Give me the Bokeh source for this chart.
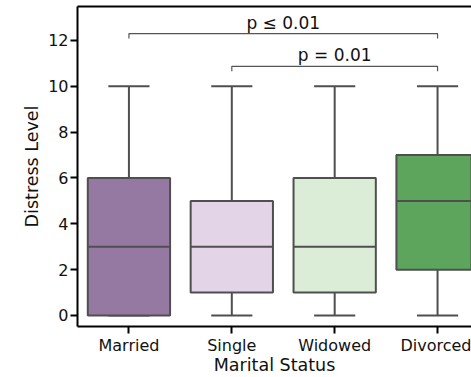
from bokeh.plotting import figure
from bokeh.models import ColumnDataSource, FixedTicker, LinearAxis, Range1d, Label
from bokeh.embed import file_html
from bokeh.resources import INLINE

categories = ["Married", "Single", "Widowed", "Divorced"]
whisker_low = [0, 0, 0, 0]
q1 = [0, 1, 1, 2]
median = [3, 3, 3, 5]
q3 = [6, 5, 6, 7]
whisker_high = [10, 10, 10, 10]
colors = ["#9679a3", "#e3d5e7", "#dbecd7", "#5da45c"]
y_ticks = [0, 2, 4, 6, 8, 10, 12]

# significance annotations: (from category, to category, bracket height, label)
brackets = [("Married", "Divorced", 12.3, "p \u2264 0.01"),
            ("Single", "Divorced", 10.87, "p = 0.01")]

FONT = "DejaVu Sans"
EDGE = "#4f4f4f"

bw = 0.8
cw = 0.4
xs = list(range(len(categories)))
src = ColumnDataSource(dict(x=xs, lo=whisker_low, q1=q1, med=median, q3=q3,
                            hi=whisker_high, color=colors,
                            bl=[x - bw / 2 for x in xs], br=[x + bw / 2 for x in xs],
                            cl=[x - cw / 2 for x in xs], cr=[x + cw / 2 for x in xs]))

p = figure(width=471, height=377, output_backend="svg", toolbar_location=None,
           x_range=Range1d(-0.5, 3.33), y_range=Range1d(-0.48, 13.48),
           min_border_left=77, min_border_right=0, min_border_top=6,
           min_border_bottom=50)
p.outline_line_color = None
p.xgrid.visible = False
p.ygrid.visible = False
p.background_fill_color = "white"
p.border_fill_color = "white"

# whiskers
p.segment(x0="x", y0="lo", x1="x", y1="q1", source=src, line_color=EDGE, line_width=2)
p.segment(x0="x", y0="q3", x1="x", y1="hi", source=src, line_color=EDGE, line_width=2)
# caps
p.segment(x0="cl", y0="lo", x1="cr", y1="lo", source=src, line_color=EDGE, line_width=2)
p.segment(x0="cl", y0="hi", x1="cr", y1="hi", source=src, line_color=EDGE, line_width=2)
# boxes
p.vbar(x="x", width=bw, bottom="q1", top="q3", source=src, fill_color="color",
       line_color=EDGE, line_width=2)
# medians
p.segment(x0="bl", y0="med", x1="br", y1="med", source=src, line_color=EDGE, line_width=2)

# brackets
tip = 0.22
for a, b, h, lab in brackets:
    xa = categories.index(a)
    xb = categories.index(b)
    p.line([xa, xa, xb, xb], [h - tip, h, h, h - tip], line_color="#555555", line_width=1.2)
    p.add_layout(Label(x=(xa + xb) / 2, y=h, text=lab, text_align="center",
                       text_baseline="bottom", text_font=FONT, text_font_size="17px",
                       text_color="#111111", y_offset=1))

# axes
for ax in (p.xaxis[0], p.yaxis[0]):
    ax.axis_line_width = 2
    ax.axis_line_color = "black"
    ax.major_tick_line_width = 2
    ax.major_tick_line_color = "black"
    ax.major_tick_out = 7
    ax.major_tick_in = 0
    ax.minor_tick_line_color = None
    ax.major_label_text_font = FONT
    ax.major_label_text_font_size = "16px"
    ax.major_label_text_color = "#111111"
    ax.axis_label_text_font = FONT
    ax.axis_label_text_font_size = "17.5px"
    ax.axis_label_text_font_style = "normal"
    ax.axis_label_text_color = "#111111"
    ax.major_label_standoff = 2

p.xaxis.ticker = FixedTicker(ticks=xs)
p.xaxis.major_label_overrides = {i: c for i, c in enumerate(categories)}
p.xaxis.axis_label = "Marital Status"
p.xaxis.axis_label_standoff = -3
p.yaxis.ticker = FixedTicker(ticks=y_ticks)
p.yaxis.axis_label = "Distress Level"
p.yaxis.axis_label_standoff = 3

top = LinearAxis(ticker=FixedTicker(ticks=[]), axis_line_width=2, axis_line_color="black",
                 major_tick_line_color=None, minor_tick_line_color=None,
                 major_label_text_font_size="0px", major_label_standoff=0)
p.add_layout(top, "above")

open("out.html", "w").write(file_html(p, INLINE))
